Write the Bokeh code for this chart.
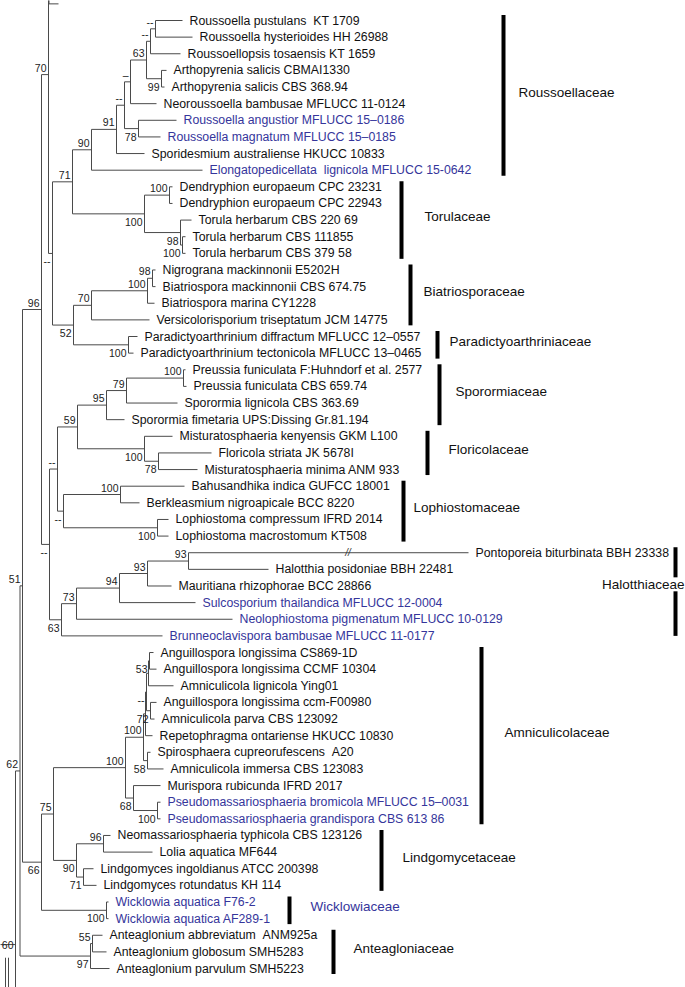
from bokeh.plotting import figure
from bokeh.models import Range1d, ColumnDataSource
from bokeh.embed import file_html
from bokeh.resources import INLINE
from bokeh.core.properties import value

# ---------------- data ----------------
leaf_names = [
    "Roussoella pustulans  KT 1709", "Roussoella hysterioides HH 26988",
    "Roussoellopsis tosaensis KT 1659", "Arthopyrenia salicis CBMAI1330",
    "Arthopyrenia salicis CBS 368.94", "Neoroussoella bambusae MFLUCC 11-0124",
    "Roussoella angustior MFLUCC 15\u20130186", "Roussoella magnatum MFLUCC 15\u20130185",
    "Sporidesmium australiense HKUCC 10833", "Elongatopedicellata  lignicola MFLUCC 15-0642",
    "Dendryphion europaeum CPC 23231", "Dendryphion europaeum CPC 22943",
    "Torula herbarum CBS 220 69", "Torula herbarum CBS 111855", "Torula herbarum CBS 379 58",
    "Nigrograna mackinnonii E5202H", "Biatriospora mackinnonii CBS 674.75",
    "Biatriospora marina CY1228", "Versicolorisporium triseptatum JCM 14775",
    "Paradictyoarthrinium diffractum MFLUCC 12\u20130557",
    "Paradictyoarthrinium tectonicola MFLUCC 13\u20130465",
    "Preussia funiculata F:Huhndorf et al. 2577", "Preussia funiculata CBS 659.74",
    "Sporormia lignicola CBS 363.69", "Sporormia fimetaria UPS:Dissing Gr.81.194",
    "Misturatosphaeria kenyensis GKM L100", "Floricola striata JK 5678I",
    "Misturatosphaeria minima ANM 933", "Bahusandhika indica GUFCC 18001",
    "Berkleasmium nigroapicale BCC 8220", "Lophiostoma compressum IFRD 2014",
    "Lophiostoma macrostomum KT508", "Pontoporeia biturbinata BBH 23338",
    "Halotthia posidoniae BBH 22481", "Mauritiana rhizophorae BCC 28866",
    "Sulcosporium thailandica MFLUCC 12-0004", "Neolophiostoma pigmenatum MFLUCC 10-0129",
    "Brunneoclavispora bambusae MFLUCC 11-0177", "Anguillospora longissima CS869-1D",
    "Anguillospora longissima CCMF 10304", "Amniculicola lignicola Ying01",
    "Anguillospora longissima ccm-F00980", "Amniculicola parva CBS 123092",
    "Repetophragma ontariense HKUCC 10830", "Spirosphaera cupreorufescens  A20",
    "Amniculicola immersa CBS 123083", "Murispora rubicunda IFRD 2017",
    "Pseudomassariosphaeria bromicola MFLUCC 15\u20130031",
    "Pseudomassariosphaeria grandispora CBS 613 86",
    "Neomassariosphaeria typhicola CBS 123126", "Lolia aquatica MF644",
    "Lindgomyces ingoldianus ATCC 200398", "Lindgomyces rotundatus KH 114",
    "Wicklowia aquatica F76-2", "Wicklowia aquatica AF289-1",
    "Anteaglonium abbreviatum  ANM925a", "Anteaglonium globosum SMH5283",
    "Anteaglonium parvulum SMH5223",
]
new_taxa = [6, 7, 9, 35, 36, 37, 47, 48, 53, 54]

# tip depth of every leaf (branch length accumulated from the left)
leaf_depth = [182, 192, 180, 166, 164, 156, 176, 160, 144, 202,
              172, 172, 191, 185, 185, 155, 155, 154, 149, 137,
              133, 185, 186, 177, 124, 172, 211, 197, 184, 139,
              168, 168, 468, 268, 171, 195, 232, 162, 153, 156,
              173, 156, 154, 152, 150, 163, 160, 160, 160, 110,
              152, 93, 96, 108, 108, 102, 106, 109]

def N(sup, depth, place, *kids):
    return {"sup": sup, "d": depth, "p": place, "k": list(kids)}

def L(i):
    return {"leaf": i}

def H(row, depth):
    return {"hid": row, "d": depth}

roussoellaceae = N("90", 91, "a",
    N("91", 116, "a",
        N("--", 124, "a",
            N("\u2013", 130, "a",
                N("63", 146, "a",
                    N("--", 150, "a", N("--", 155, "a", L(0), L(1)), L(2)),
                    N("99", 161, "b", L(3), L(4))),
                L(5)),
            N("78", 138, "b", L(6), L(7))),
        L(8)),
    L(9))
torulaceae = N("100", 144, "b",
    N("100", 169, "a", L(10), L(11)),
    N("98", 180, "b", L(12), N("100", 182, "b", L(13), L(14))))
biatrio = N("70", 91, "a",
    N("100", 147, "a", N("98", 152, "a", L(15), L(16)), L(17)),
    L(18))
paradict = N("100", 128, "b", L(19), L(20))
clade_c = N("--", 52, "b",
    N("71", 72, "a", roussoellaceae, torulaceae),
    N("52", 73, "b", biatrio, paradict))
clade_a = N("70", 48, "a", N("", 48.5, "", H(-1.0, 58), H(-14, 48.5)), clade_c)

spororm = N("95", 106, "a",
    N("79", 126, "a", N("100", 183, "a", L(21), L(22)), L(23)),
    L(24))
floric = N("100", 144, "b", L(25), N("78", 158, "b", L(26), L(27)))
lophio = N("--", 63, "b",
    N("100", 120, "a", L(28), L(29)),
    N("100", 157, "b", L(30), L(31)))
halot = N("63", 61, "b",
    N("73", 76, "a",
        N("94", 119, "a",
            N("93", 147, "a", N("93", 188, "a", L(32), L(33)), L(34)),
            L(35)),
        L(36)),
    L(37))
clade_low = N("--", 49, "b", N("--", 57, "a", N("59", 77, "a", spororm, floric), lophio), halot)
clade96 = N("96", 41, "a", clade_a, clade_low)

amnic = N("100", 125, "a",
    N("100", 143, "a",
        N("", 145, "",
            N("--", 146, "b",
                N("", 148, "", N("53", 149, "b", L(38), L(39)), L(40)),
                N("72", 150, "b", L(41), L(42))),
            L(43)),
        N("58", 147, "b", L(44), L(45))),
    N("68", 133, "b", L(46), N("100", 157, "b", L(47), L(48))))
lindgo = N("90", 76, "b",
    N("96", 103, "a", L(49), L(50)),
    N("71", 83, "b", L(51), L(52)))
clade66 = N("66", 41, "b",
    N("75", 53, "a", amnic, lindgo),
    N("100", 106, "b", L(53), L(54)))
antea = N("97", 90, "b", N("55", 92, "a", L(55), L(56)), L(57))
tree = N("", -2, "",
    N("60", 15, "l",
        N("62", 19.5, "a", N("51", 22, "a", clade96, clade66), antea),
        H(66, 15)),
    N("", 5, "", H(56.35, 5), N("", 8, "", H(56.35, 8), H(90, 8)), H(90, 5)))

families = ["Roussoellaceae", "Torulaceae", "Biatriosporaceae", "Paradictyoarthriniaceae",
            "Sporormiaceae", "Floricolaceae", "Lophiostomaceae", "Halotthiaceae",
            "Amniculicolaceae", "Lindgomycetaceae", "Wicklowiaceae", "Anteagloniaceae"]
fam_first = [0, 10, 15, 19, 21, 25, 28, 32, 38, 49, 53, 55]
fam_last = [9, 14, 18, 20, 24, 27, 31, 37, 48, 52, 54, 57]
fam_new = ["Wicklowiaceae"]

# ---------------- layout / style ----------------
fam_bar_x = [503, 401, 410, 437, 439, 427, 403, 675, 481, 381, 289, 333]
fam_text_x = [518, 424, 423, 449, 455, 448, 413, 684, 504, 402, 310, 353]
BLUE = "#35359b"
LINE = "#4a4a4a"
FONT = "Liberation Sans"
ROW_PX = 16.632
TOP_PX = 20.0
W, Hgt = 685, 987

# ---------------- compute tree geometry ----------------
seg = {"x0": [], "y0": [], "x1": [], "y1": []}
sup = {"x": [], "y": [], "t": [], "dy": []}

def add_seg(x0, y0, x1, y1):
    seg["x0"].append(x0); seg["y0"].append(y0)
    seg["x1"].append(x1); seg["y1"].append(y1)

def layout(node):
    if "leaf" in node:
        return float(node["leaf"]), leaf_depth[node["leaf"]]
    if "hid" in node:
        return float(node["hid"]), node["d"]
    ys = []
    for k in node["k"]:
        y, d = layout(k)
        add_seg(node["d"], y, d, y)
        ys.append(y)
    add_seg(node["d"], ys[0], node["d"], ys[-1])
    ym = (ys[0] + ys[-1]) / 2.0
    if node["sup"]:
        sup["x"].append(node["d"]); sup["y"].append(ym); sup["t"].append(node["sup"])
        sup["dy"].append({"a": -7, "b": 8, "l": 0}[node["p"]])
    return ym, node["d"]

layout(tree)

p = figure(width=W, height=Hgt, output_backend="svg", toolbar_location=None,
           x_range=Range1d(0, W),
           y_range=Range1d((Hgt - TOP_PX) / ROW_PX, -TOP_PX / ROW_PX),
           min_border=0)
p.axis.visible = False
p.grid.visible = False
p.outline_line_color = None
p.background_fill_color = "white"
p.border_fill_color = "white"

p.segment("x0", "y0", "x1", "y1", source=ColumnDataSource(seg), line_color=LINE, line_width=1)

p.text("x", "y", text="t", y_offset="dy", source=ColumnDataSource(sup), x_offset=-2,
       text_align="right", text_baseline="middle", text_font=value(FONT),
       text_font_size="10.5px", text_color="#222222")

# break mark on the long branch
p.text([leaf_depth[32] - 0.43 * (leaf_depth[32] - 188)], [32], text=["//"],
       text_align="center", text_baseline="middle", text_font=value(FONT),
       text_font_size="10px", text_font_style="italic", text_color="#333333")

# leaf labels
lab = {"x": [], "y": [], "t": [], "c": []}
for i, nm in enumerate(leaf_names):
    lab["x"].append(leaf_depth[i]); lab["y"].append(i)
    lab["t"].append(nm.replace("  ", " \u00a0"))
    lab["c"].append(BLUE if i in new_taxa else "#111111")
p.text("x", "y", text="t", text_color="c", source=ColumnDataSource(lab), x_offset=7,
       text_align="left", text_baseline="middle", text_font=value(FONT),
       text_font_size="12.3px")

# family bars and names
bars = {"x0": [], "y0": [], "x1": [], "y1": []}
ftx = {"x": [], "y": [], "t": [], "c": [], "a": []}
for f, a, b, bx, tx in zip(families, fam_first, fam_last, fam_bar_x, fam_text_x):
    y0, y1 = a - 0.33, b + 0.33
    if f == "Halotthiaceae":
        ym = 33.9
        for s0, s1 in ((y0, ym - 0.42), (ym + 0.42, b)):
            bars["x0"].append(bx); bars["y0"].append(s0); bars["x1"].append(bx); bars["y1"].append(s1)
        ftx["y"].append(ym); ftx["a"].append("right")
    else:
        bars["x0"].append(bx); bars["y0"].append(y0); bars["x1"].append(bx); bars["y1"].append(y1)
        ftx["y"].append((a + b) / 2.0 - 0.2); ftx["a"].append("left")
    ftx["x"].append(tx); ftx["t"].append(f)
    ftx["c"].append(BLUE if f in fam_new else "#111111")
p.segment("x0", "y0", "x1", "y1", source=ColumnDataSource(bars), line_color="#000000", line_width=4)
p.text("x", "y", text="t", text_color="c", text_align="a", source=ColumnDataSource(ftx),
       text_baseline="middle", text_font=value(FONT), text_font_size="13.5px")

open("out.html", "w").write(file_html(p, INLINE))
